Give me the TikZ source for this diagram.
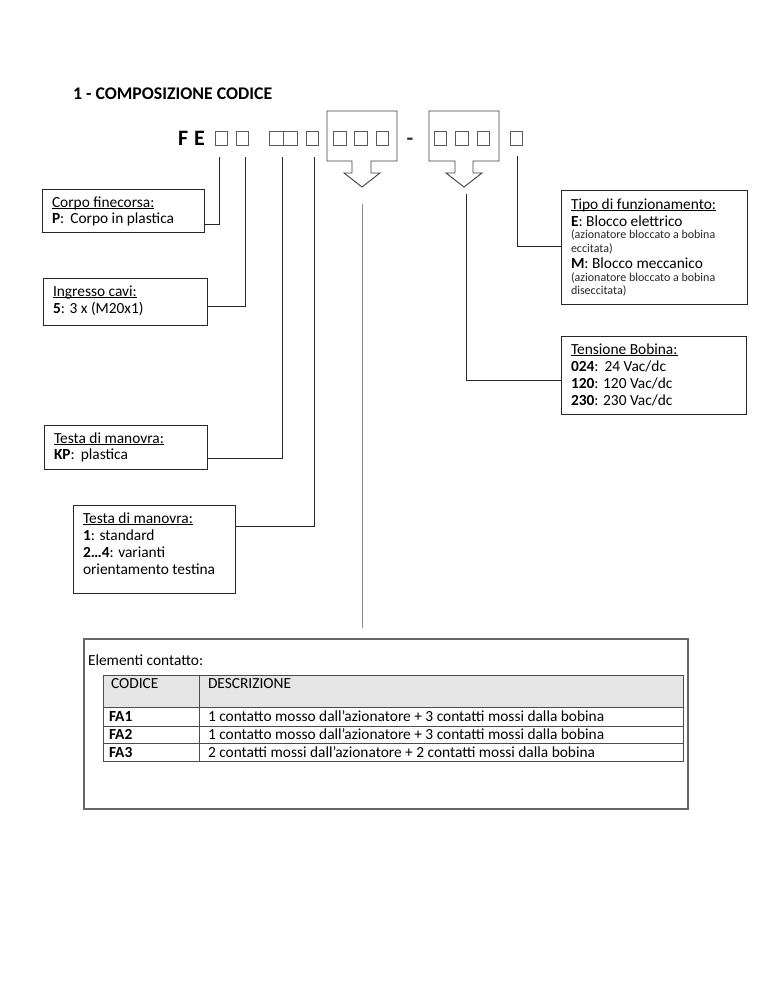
\documentclass[tikz,border=0pt]{standalone}
\usepackage{fontspec}
\setmainfont{Carlito}
\newcommand\ulx[1]{\setbox0\hbox{#1}\rlap{\rule[-2pt]{\wd0}{0.7pt}}\box0}
\begin{document}
\begin{tikzpicture}[x=1pt,y=-1pt,
  every node/.style={inner sep=0pt,outer sep=0pt},
  frame/.style={draw=black!85,line width=1pt,rectangle,anchor=north west},
  body/.style={anchor=base west,font=\fontsize{15.4}{17}\selectfont},
  small/.style={anchor=base west,font=\fontsize{12}{13}\selectfont,text=black!85},
  cbox/.style={draw=black!65,line width=0.8pt,rectangle,anchor=north west,minimum width=12.5,minimum height=14},
  conn/.style={draw=black!85,line width=1pt},
  graycon/.style={draw=black!45,line width=1pt},
  bracket/.style={draw=black!75,line width=0.9pt},
  grid/.style={draw=black!70,line width=0.9pt}]
\fill[white] (0,0) rectangle (768,994);
\useasboundingbox (0,0) rectangle (768,994);

% title
\node[anchor=base west,font=\fontsize{17.8}{20}\selectfont\bfseries] (title) at (73,99) {1 - COMPOSIZIONE CODICE};

% code line
\node[anchor=base west,font=\fontsize{22}{24}\selectfont\bfseries] (fe) at (178,145) {F\hspace{6pt}E};
\node[cbox] (b1) at (215,131) {};
\node[cbox] (b2) at (236,131) {};
\node[cbox,minimum width=14.5] (b3) at (269,131) {};
\node[cbox,minimum width=14] (b4) at (283.5,131) {};
\node[cbox] (b5) at (306,131) {};
\node[cbox] (b6) at (333.5,131) {};
\node[cbox] (b7) at (354.5,131) {};
\node[cbox] (b8) at (376,131) {};
\node[cbox] (b9) at (434,131) {};
\node[cbox] (b10) at (455.5,131) {};
\node[cbox] (b11) at (477,131) {};
\node[cbox] (b12) at (510,131) {};
\node[anchor=base,font=\fontsize{22}{24}\selectfont\bfseries,text=black!80] (dash) at (410,145) {-};

% brackets with arrows
\draw[bracket] (327,111) -- (327,161) -- (352,161) -- (352,173) -- (344,173) -- (362,187) -- (380,173) -- (371,173) -- (371,161) -- (397,161) -- (397,111) -- cycle;
\draw[bracket] (429,111) -- (429,161) -- (455,161) -- (455,173) -- (446,173) -- (464,187) -- (482,173) -- (473,173) -- (473,161) -- (499,161) -- (499,111) -- cycle;

% left boxes
\node[frame,minimum width=162,minimum height=43] (corpo) at (42,189) {};
\node[body] (corpo1) at (52,207) {\ulx{Corpo finecorsa:}};
\node[body] (corpo2) at (52,223) {\textbf{P}:\ \,Corpo in plastica};

\node[frame,minimum width=164,minimum height=47] (ingr) at (43,278) {};
\node[body] (ingr1) at (53,296) {\ulx{Ingresso cavi:}};
\node[body] (ingr2) at (53,313) {\textbf{5}: 3 x (M20x1)};

\node[frame,minimum width=163,minimum height=44] (kp) at (44,425) {};
\node[body] (kp1) at (54,443) {\ulx{Testa di manovra:}};
\node[body] (kp2) at (54,459) {\textbf{KP}:\ \,plastica};

\node[frame,minimum width=162,minimum height=88] (testa) at (73,505) {};
\node[body] (testa1) at (83,523) {\ulx{Testa di manovra:}};
\node[body] (testa2) at (83,540) {\textbf{1}: standard};
\node[body] (testa3) at (83,557) {\textbf{2\dots4}: varianti};
\node[body] (testa4) at (83,574) {orientamento testina};

% right boxes
\node[frame,minimum width=186,minimum height=114] (tipo) at (561,190) {};
\node[body] (tipo1) at (571,209) {\ulx{Tipo di funzionamento:}};
\node[body] (tipo2) at (571,226) {\textbf{E}: Blocco elettrico};
\node[small] (tipo3) at (571,238) {(azionatore bloccato a bobina};
\node[small] (tipo4) at (571,252) {eccitata)};
\node[body] (tipo5) at (571,268) {\textbf{M}: Blocco meccanico};
\node[small] (tipo6) at (571,281) {(azionatore bloccato a bobina};
\node[small] (tipo7) at (571,294) {diseccitata)};

\node[frame,minimum width=185,minimum height=78] (tens) at (561,336) {};
\node[body] (tens1) at (571,354) {\ulx{Tensione Bobina:}};
\node[body] (tens2) at (571,371) {\textbf{024}:\ \,24 Vac/dc};
\node[body] (tens3) at (571,388) {\textbf{120}: 120 Vac/dc};
\node[body] (tens4) at (571,405) {\textbf{230}: 230 Vac/dc};

% connectors
\coordinate (l1) at (219,157);
\coordinate (l2) at (245,157);
\coordinate (l3) at (282,157);
\coordinate (l5) at (314,157);
\coordinate (l12) at (517,156);
\coordinate (la2) at (466,194);
\coordinate (la1) at (362,204);
\coordinate (j1) at (204,224);
\coordinate (j2) at (207,306);
\coordinate (j3) at (207,458);
\coordinate (j5) at (235,526);
\coordinate (j12) at (561,246);
\coordinate (ja2) at (561,380);
\coordinate (ja1) at (362,628);
\draw[conn] (l1) |- (j1);
\draw[conn] (l2) |- (j2);
\draw[conn] (l3) |- (j3);
\draw[conn] (l5) |- (j5);
\draw[conn] (l12) |- (j12);
\draw[conn] (la2) |- (ja2);
\draw[graycon] (la1) -- (ja1);

% contact elements box
\node[draw=black!60,line width=1.3pt,rectangle,anchor=north west,minimum width=604,minimum height=170] (elem) at (84,639) {};
\node[body] (elemT) at (88,665) {Elementi contatto:};

\fill[black!10] (103,675) rectangle (683,707);
\node[grid,rectangle,anchor=north west,minimum width=580,minimum height=86] (tab) at (103,675) {};
\draw[grid] (103,707) -- (683,707);
\draw[grid] (103,726) -- (683,726);
\draw[grid] (103,743) -- (683,743);
\draw[grid] (199,675) -- (199,761);

\node[body] (hc) at (111,688) {CODICE};
\node[body] (hd) at (208,688) {DESCRIZIONE};
\node[body] (c1) at (109,721) {\textbf{FA1}};
\node[body] (c2) at (109,739) {\textbf{FA2}};
\node[body] (c3) at (109,757) {\textbf{FA3}};
\node[body] (d1) at (208,721) {1 contatto mosso dall’azionatore + 3 contatti mossi dalla bobina};
\node[body] (d2) at (208,739) {1 contatto mosso dall’azionatore + 3 contatti mossi dalla bobina};
\node[body] (d3) at (208,757) {2 contatti mossi dall’azionatore + 2 contatti mossi dalla bobina};
\end{tikzpicture}
\end{document}
